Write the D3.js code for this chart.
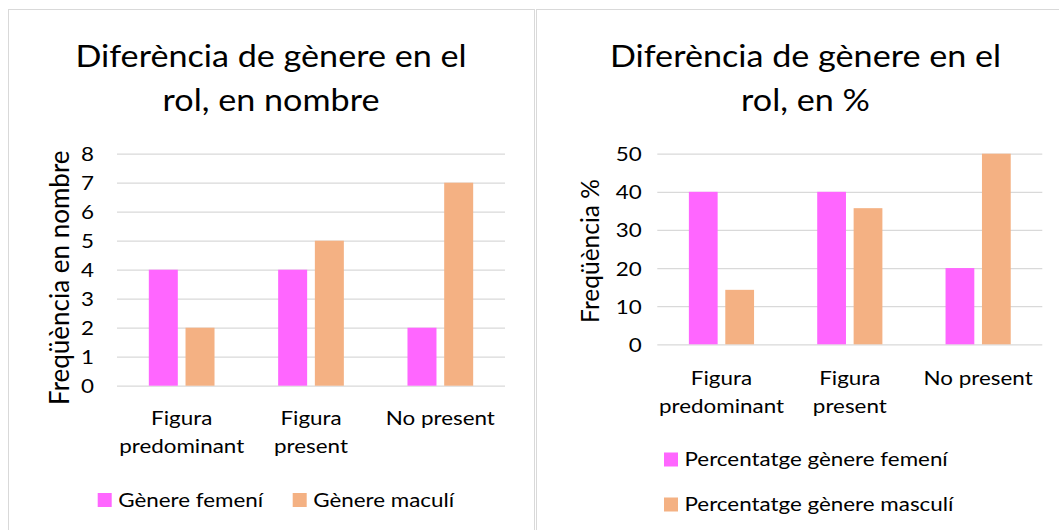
<!DOCTYPE html>
<html>
<head>
<meta charset="utf-8">
<script src="https://cdn.jsdelivr.net/npm/d3@7/dist/d3.min.js"></script>
<style>
  html, body { margin: 0; padding: 0; background: #fff; }
  svg { display: block; font-family: Lato, "Open Sans", sans-serif; }
</style>
</head>
<body>
<svg id="chart" width="1059" height="530"></svg>
<script>
// ---- data ----
const categories = ["Figura predominant", "Figura present", "No present"];
const categoryLines = [["Figura", "predominant"], ["Figura", "present"], ["No present"]];
const countFemale = [4, 4, 2];
const countMale = [2, 5, 7];
const pctFemale = [40, 40, 20];
const pctMale = [14.29, 35.71, 50];
const countTicks = [0, 1, 2, 3, 4, 5, 6, 7, 8];
const pctTicks = [0, 10, 20, 30, 40, 50];
const countTitle = ["Diferència de gènere en el", "rol, en nombre"];
const pctTitle = ["Diferència de gènere en el", "rol, en %"];
const countSeriesNames = ["Gènere femení", "Gènere maculí"];
const pctSeriesNames = ["Percentatge gènere femení", "Percentatge gènere masculí"];
const countAxisLabel = "Freqüència en nombre";
const pctAxisLabel = "Freqüència %";

const colors = ["#FF66FF", "#F4B183"];
const gridColor = "#D9D9D9";
const textColor = "#000";
const SX = 1.12;      // horizontal stretch of the text
const FS = 20;        // body font size
const TFS = 30.5;     // title font size

const svg = d3.select("#chart");

function stext(g, x, y, anchor, size, str) {
  return g.append("text")
    .attr("transform", `translate(${x},${y}) scale(${SX},1)`)
    .attr("text-anchor", anchor).attr("font-size", size).attr("fill", textColor).text(str);
}

function drawPanel(cfg) {
  const g = svg.append("g");
  g.append("rect")
    .attr("x", cfg.panel[0] + 0.5).attr("y", 9.5)
    .attr("width", cfg.panel[1] - cfg.panel[0]).attr("height", 600)
    .attr("fill", "#fff").attr("stroke", gridColor).attr("stroke-width", 1);

  const cx = (cfg.panel[0] + cfg.panel[1]) / 2;
  cfg.title.forEach((t, i) => stext(g, cx, cfg.titleY[i], "middle", TFS, t));

  const x0 = d3.scaleBand().domain(categories).range(cfg.xr).paddingInner(0).paddingOuter(0);
  const x1 = d3.scaleBand().domain([0, 1]).range([0, x0.bandwidth()]).paddingInner(0.21).paddingOuter(0.867);
  const y = d3.scaleLinear().domain([0, cfg.ticks[cfg.ticks.length - 1]]).range(cfg.yr);

  const yAxis = d3.axisLeft(y).tickValues(cfg.ticks).tickSize(-(cfg.xr[1] - cfg.xr[0])).tickPadding(0);
  const ax = g.append("g").attr("transform", `translate(${cfg.xr[0]},0)`).call(yAxis);
  ax.select(".domain").remove();
  ax.selectAll(".tick line").attr("stroke", gridColor).attr("stroke-width", 1.3);
  ax.selectAll(".tick text")
    .attr("x", null).attr("dy", "0.35em")
    .attr("transform", `translate(${-cfg.tickPad},0) scale(${SX},1)`)
    .attr("font-size", FS).attr("font-family", "Lato").attr("fill", textColor);

  const series = [cfg.s0, cfg.s1];
  series.forEach((vals, si) => {
    g.append("g").selectAll("rect").data(vals).join("rect")
      .attr("x", (d, i) => x0(categories[i]) + x1(si))
      .attr("width", x1.bandwidth())
      .attr("y", d => y(d))
      .attr("height", d => y(0) - y(d))
      .attr("fill", colors[si]);
  });

  categories.forEach((c, i) => {
    const t = stext(g, x0(c) + x0.bandwidth() / 2, cfg.yr[0] + cfg.catGap, "middle", FS, null);
    categoryLines[i].forEach((ln, li) => {
      t.append("tspan").attr("x", 0).attr("dy", li === 0 ? 0 : 28.3).text(ln);
    });
  });

  g.append("text").attr("transform", `translate(${cfg.axisLabelX},${(cfg.yr[0] + cfg.yr[1]) / 2 + cfg.axisLabelDy}) rotate(-90)`)
    .attr("text-anchor", "middle").attr("dy", "0.35em").attr("font-size", cfg.axisFS).attr("fill", textColor).text(cfg.axisLabel);

  cfg.names.forEach((n, i) => {
    const p = cfg.legend[i];
    g.append("rect").attr("x", p[0]).attr("y", p[1] - 13.5).attr("width", 14).attr("height", 14).attr("fill", colors[i]);
    stext(g, p[0] + 20.5, p[1], "start", FS, n);
  });
}

drawPanel({
  panel: [8, 534], title: countTitle, titleY: [67, 111],
  xr: [117, 505], yr: [385.7, 153.7], ticks: countTicks, tickPad: 23,
  s0: countFemale, s1: countMale, catGap: 39.5,
  axisLabel: countAxisLabel, axisLabelX: 60, axisLabelDy: 8, axisFS: 26,
  names: countSeriesNames, legend: [[97.7, 506.5], [292.7, 506.5]]
});
drawPanel({
  panel: [536, 1075], title: pctTitle, titleY: [67, 111],
  xr: [657.3, 1042.3], yr: [344.3, 153.7], ticks: pctTicks, tickPad: 15.6,
  s0: pctFemale, s1: pctMale, catGap: 40.5,
  axisLabel: pctAxisLabel, axisLabelX: 590, axisLabelDy: 2, axisFS: 24.5,
  names: pctSeriesNames, legend: [[664, 466], [664, 511]]
});
</script>
</body>
</html>
